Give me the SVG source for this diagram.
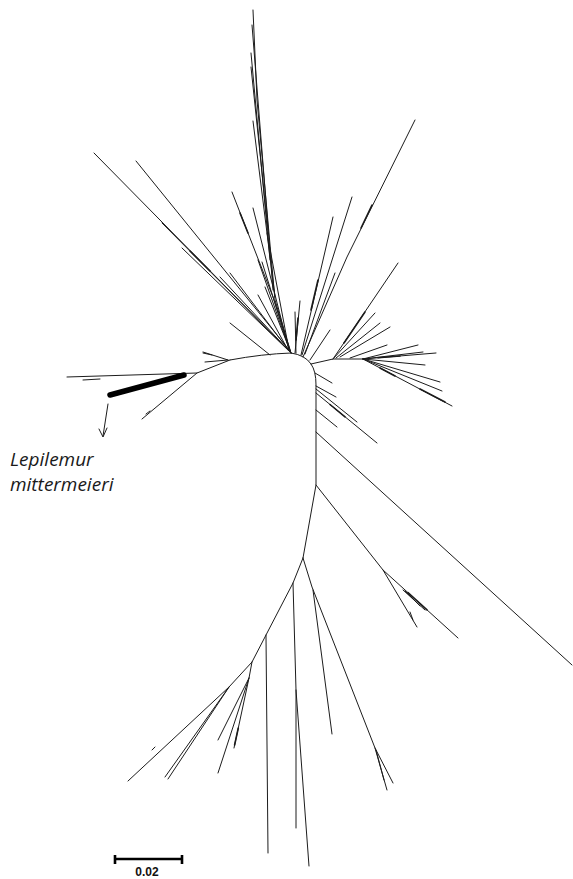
<svg xmlns="http://www.w3.org/2000/svg" width="573" height="879" viewBox="0 0 573 879">
<style>
.b{stroke:#1c1c1c;stroke-width:1;fill:none;stroke-linecap:round;stroke-linejoin:round}
.t{stroke:#1c1c1c;stroke-width:1.6;fill:none;stroke-linecap:round}
.lbl{font-family:"Open Sans","Liberation Sans",sans-serif;font-style:italic;font-size:19px;fill:#1a1a1a}
.sc{font-family:"Liberation Sans",Arial,sans-serif;font-weight:bold;font-size:12px;fill:#111}
</style>
<rect width="573" height="879" fill="#fff"/>
<g id="connectors">
<!-- backbone -->
<path class="b" d="M291,353 Q262,354 230,360"/>
<path class="b" d="M291,353 Q305,355 311,364 Q316,371 316,385 L316,485 L303,558"/>
<path class="b" d="M311,364 L333,359 L363,359"/>
<!-- left clade -->
<path class="b" d="M230,360 L197,373 L67,377"/>
<path class="b" d="M197,373 L142,419"/>
<path class="b" d="M146,414 L150,411"/>
<path class="b" d="M83,380 L100,379"/>
<path class="b" d="M228,360 L203,352"/>
<path class="b" d="M228,360 L205,362"/>
<path class="b" d="M212,355 L203,353"/>
<line x1="184" y1="375" x2="110" y2="395" stroke="#000" stroke-width="5.5" stroke-linecap="round"/>
<!-- top cluster -->
<path class="b" d="M291,353 L275,300 L257,100 L253,10"/>
<path class="b" d="M273,290 L252,25"/>
<path class="b" d="M270,260 L251,53"/>
<path class="b" d="M268,230 L251,67"/>
<path class="b" d="M275,297 L253,121"/>
<path class="b" d="M291,353 L273,297 L232,192"/>
<path class="t" d="M248,233 L240,213"/>
<path class="b" d="M289,350 L253,208"/>
<path class="b" d="M289,350 L267,233"/>
<path class="b" d="M290,351 L258,260"/>
<path class="b" d="M290,351 L262,262"/>
<path class="b" d="M288,350 L258,295"/>
<path class="b" d="M291,353 L94,153"/>
<path class="b" d="M290,351 L136,161"/>
<path class="b" d="M290,352 L162,223"/>
<path class="b" d="M290,352 L182,248"/>
<path class="t" d="M210,271 L190,251"/>
<path class="b" d="M290,352 L220,277"/>
<path class="b" d="M290,352 L230,273"/>
<path class="b" d="M291,353 L265,287"/>
<path class="b" d="M270,355 L230,323"/>
<path class="b" d="M296,353 L295,312"/>
<path class="b" d="M295,353 L300,301"/>
<path class="t" d="M296,340 L298,318"/>
<!-- NE cluster -->
<path class="b" d="M303,357 L347,257 L415,120"/>
<path class="t" d="M361,228 L372,205"/>
<path class="b" d="M302,355 L352,197"/>
<path class="b" d="M301,355 L333,217"/>
<path class="t" d="M311,310 L318,280"/>
<path class="b" d="M305,354 L335,273"/>
<path class="b" d="M310,360 L330,330"/>
<!-- right cluster -->
<path class="b" d="M333,359 L398,263"/>
<path class="t" d="M344,343 L365,312"/>
<path class="b" d="M333,359 L375,313"/>
<path class="b" d="M336,358 L380,323"/>
<path class="b" d="M340,357 L390,327"/>
<path class="b" d="M350,358 L387,345"/>
<path class="b" d="M363,359 L418,345"/>
<path class="b" d="M363,359 L423,352"/>
<path class="b" d="M363,359 L436,353"/>
<path class="t" d="M378,357.8 L400,356"/>
<path class="b" d="M363,359 L425,365"/>
<path class="b" d="M363,359 L440,382"/>
<path class="b" d="M363,359 L442,391"/>
<path class="b" d="M363,359 L452,406"/>
<path class="t" d="M380,368 L395,376"/>
<path class="t" d="M420,389 L445,402"/>
<!-- trunk side branches -->
<path class="b" d="M315,373 L332,383"/>
<path class="b" d="M316,386 L336,397"/>
<path class="b" d="M316,389 L357,422"/>
<path class="b" d="M316,393 L377,443"/>
<path class="t" d="M330,404.5 L345,416.8"/>
<path class="b" d="M316,410 L337,427"/>
<path class="b" d="M316,432 L572,665"/>
<path class="b" d="M316,485 L383,570 L458,638"/>
<path class="b" d="M383,570 L417,627"/>
<path class="b" d="M403,590 L425,610"/>
<path class="b" d="M405,591 L420,606"/>
<path class="t" d="M408,592.7 L427,609.9"/>
<path class="b" d="M410,612 L413,620"/>
<!-- bottom -->
<path class="b" d="M303,558 L293,583 L266,635 L252,662"/>
<path class="b" d="M303,558 L312,587 L375,748 L393,783"/>
<path class="b" d="M375,748 L387,790"/>
<path class="b" d="M376,750 L384,780"/>
<path class="b" d="M313,590 L332,734"/>
<path class="b" d="M293,583 L296,690 L296,828"/>
<path class="b" d="M296,690 L309,866"/>
<path class="b" d="M266,635 L268,853"/>
<path class="b" d="M252,662 L229,687 L128,781"/>
<path class="b" d="M229,687 L165,777"/>
<path class="b" d="M229,687 L168,779"/>
<path class="b" d="M252,662 L249,678 L218,740"/>
<path class="b" d="M249,678 L218,773"/>
<path class="b" d="M249,678 L234,748"/>
<path class="t" d="M238.3,728 L234.6,745"/>
<path class="b" d="M152,750 L155,747"/>
</g>
<g id="label-lepilemur">
<path class="b" d="M108,404 L103,436 M99,429 L103,437 L107,428" stroke="#333"/>
<text class="lbl" x="10" y="466">Lepilemur</text>
<text class="lbl" x="10" y="491">mittermeieri</text>
</g>
<g id="scale-bar">
<path d="M115,859 L182,859 M115,855 L115,864 M182,855 L182,864" stroke="#000" stroke-width="2.6" fill="none"/>
<text class="sc" x="147" y="876" text-anchor="middle">0.02</text>
</g>
</svg>
